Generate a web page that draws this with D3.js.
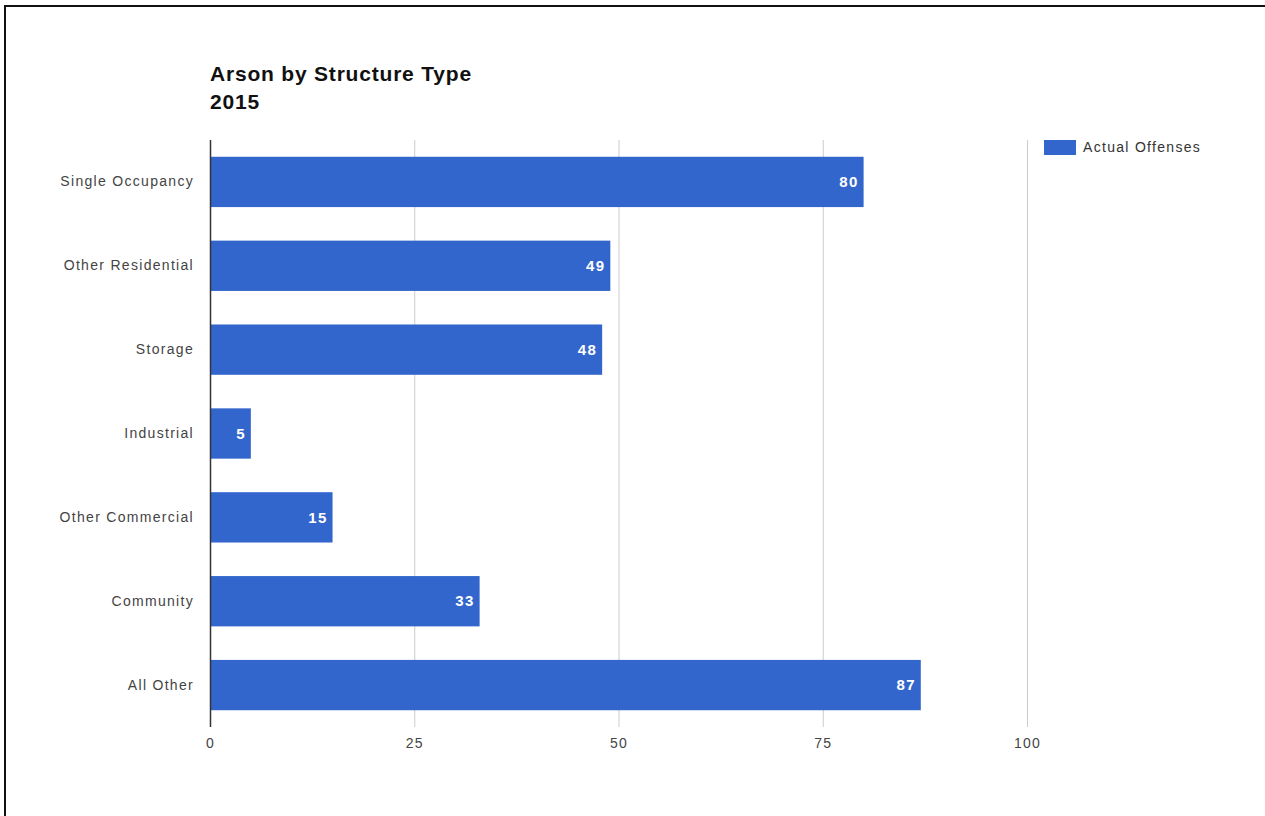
<!DOCTYPE html>
<html><head><meta charset="utf-8">
<script src="https://cdn.jsdelivr.net/npm/d3@7"></script>
<style>
html,body{margin:0;padding:0;background:#fff;}
svg{display:block;}
</style></head>
<body>
<svg id="chart" width="1265" height="816"></svg>
<script>
const categories = ["Single Occupancy","Other Residential","Storage","Industrial","Other Commercial","Community","All Other"];
const values = [80,49,48,5,15,33,87];
const tickValues = [0,25,50,75,100];
const seriesName = "Actual Offenses";
const titleLines = ["Arson by Structure Type","2015"];

const svg = d3.select("#chart");
const font = "Arial, 'Liberation Sans', sans-serif";
const barColor = "#3366cc";

// frame
svg.append("line").attr("x1",5).attr("x2",1265).attr("y1",6).attr("y2",6).attr("stroke","#111").attr("stroke-width",2);
svg.append("line").attr("x1",5).attr("x2",5).attr("y1",5).attr("y2",816).attr("stroke","#111").attr("stroke-width",2);

const x = d3.scaleLinear().domain([0,100]).range([210,1027]);
const y = d3.scaleBand().domain(categories).range([140,727]).paddingInner(0.4).paddingOuter(0.2);

// gridlines
svg.append("g").selectAll("line").data(tickValues.filter(d=>d>0)).join("line")
  .attr("x1",d=>x(d)+0.5).attr("x2",d=>x(d)+0.5).attr("y1",140).attr("y2",727)
  .attr("stroke","#cccccc").attr("stroke-width",1);

// bars
svg.append("g").selectAll("rect").data(values).join("rect")
  .attr("x",x(0)).attr("y",(d,i)=>y(categories[i]))
  .attr("width",d=>x(d)-x(0)).attr("height",y.bandwidth())
  .attr("fill",barColor);

// value labels
svg.append("g").selectAll("text").data(values).join("text")
  .attr("x",d=>x(d)-5).attr("y",(d,i)=>y(categories[i])+y.bandwidth()/2)
  .attr("dy","0.35em").attr("text-anchor","end")
  .attr("font-family",font).attr("font-size",15).attr("font-weight","bold")
  .attr("letter-spacing","1.3px")
  .attr("fill","#ffffff").text(d=>d);

// baseline axis
svg.append("line").attr("x1",210.5).attr("x2",210.5).attr("y1",140).attr("y2",727).attr("stroke","#333").attr("stroke-width",1.5);

// y labels
const yAxis = d3.axisLeft(y).tickSize(0).tickPadding(16);
const gy = svg.append("g").attr("transform","translate(210,0)").call(yAxis);
gy.select(".domain").remove();
gy.selectAll("text").attr("font-family",font).attr("font-size",14).attr("letter-spacing","1.3px").attr("fill","#444");

// x tick labels
const xAxis = d3.axisBottom(x).tickValues(tickValues).tickSize(0).tickPadding(10);
const gx = svg.append("g").attr("transform","translate(0,728)").call(xAxis);
gx.select(".domain").remove();
gx.selectAll("text").attr("font-family",font).attr("font-size",14).attr("letter-spacing","1.3px").attr("fill","#444");

// title
svg.append("g").selectAll("text").data(titleLines).join("text")
  .attr("x",210).attr("y",(d,i)=>81+i*28)
  .attr("font-family",font).attr("font-size",21).attr("font-weight","bold")
  .attr("letter-spacing","0.8px")
  .attr("fill","#111").text(d=>d);

// legend
svg.append("rect").attr("x",1044).attr("y",140).attr("width",32).attr("height",15).attr("fill",barColor);
svg.append("text").attr("x",1083).attr("y",147.5).attr("dy","0.35em")
  .attr("font-family",font).attr("font-size",14).attr("letter-spacing","1.3px").attr("fill","#333").text(seriesName);
</script>
</body></html>
